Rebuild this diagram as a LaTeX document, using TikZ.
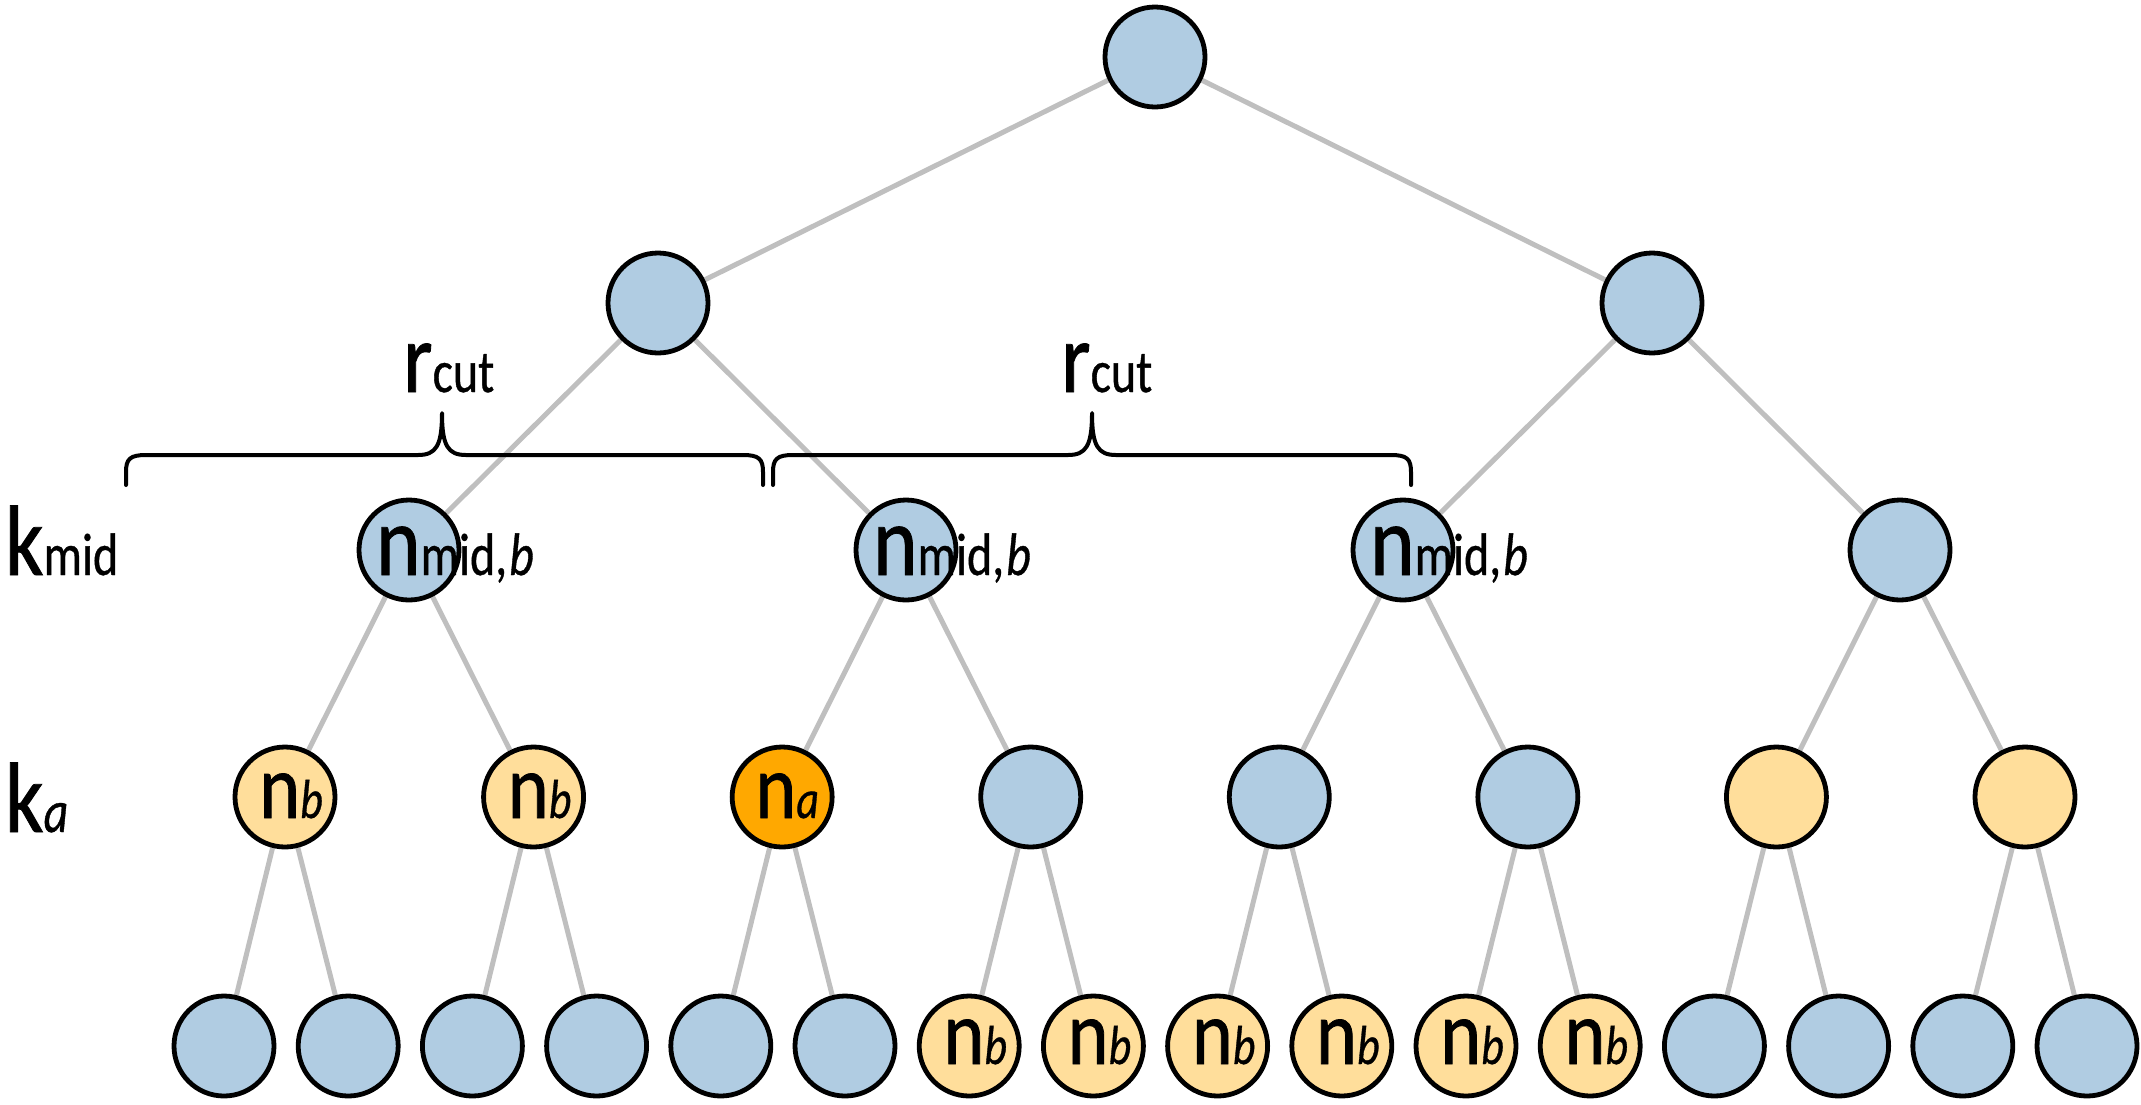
\documentclass[tikz,border=0pt]{standalone}
\usepackage{fontspec}
\setmainfont{Carlito}
\newfontfamily\mainf[FakeStretch=0.85, FakeBold=0.8]{Carlito}
\newfontfamily\subf[FakeStretch=0.8, FakeBold=0.6]{Carlito}
\usetikzlibrary{backgrounds}
\definecolor{nodeblue}{RGB}{176,204,226}
\definecolor{lightgold}{RGB}{255,222,155}
\definecolor{deeporange}{RGB}{255,168,0}
\definecolor{edgegray}{RGB}{191,191,191}
\newcommand\mainsz{\mainf\fontsize{100}{110}\selectfont}
\newcommand\subsz{\subf\fontsize{60}{66}\selectfont}
\newcommand\mainsm{\mainf\fontsize{92}{100}\selectfont}
\newcommand\subsm{\subf\fontsize{55}{60}\selectfont}
\newcommand\drawcurly[3]{%
  \draw[curly] (#1,485) -- (#1,472) .. controls (#1,459) and ({#1+4},455) .. ({#1+20},455)
    -- ({#2-24},455) .. controls ({#2-6},455) and (#2,446) .. (#2,413)
    .. controls (#2,446) and ({#2+6},455) .. ({#2+24},455)
    -- ({#3-20},455) .. controls ({#3-4},455) and (#3,459) .. (#3,472) -- (#3,485);}
\begin{document}
\begin{tikzpicture}[x=1pt,y=-1pt,
  tn/.style={circle, draw=black, line width=4.8pt, minimum size=100pt, inner sep=0pt, fill=nodeblue},
  goldn/.style={tn, fill=lightgold},
  hotn/.style={tn, fill=deeporange},
  edge/.style={draw=edgegray, line width=5pt},
  curly/.style={draw=black, line width=4pt, line cap=round, line join=round},
  lbl/.style={inner sep=0pt, outer sep=0pt, text=black}
]
\useasboundingbox (0,0) rectangle (2141,1104);

% nodes
\node[tn] (r) at (1155,57) {};
\node[tn] (a1) at (658,303) {};
\node[tn] (a2) at (1652,303) {};
\foreach \i/\x in {1/409,2/906,3/1403,4/1900}
  \node[tn] (b\i) at (\x,550) {};
\foreach \i/\s in {1/goldn,2/goldn,3/hotn,4/tn,5/tn,6/tn,7/goldn,8/goldn}
  \node[\s] (c\i) at ({285+248.57*(\i-1)},797) {};
\foreach \j/\s in {1/tn,2/tn,3/tn,4/tn,5/tn,6/tn,7/goldn,8/goldn,9/goldn,10/goldn,11/goldn,12/goldn,13/tn,14/tn,15/tn,16/tn}
  \node[\s] (d\j) at ({224+124.2*(\j-1)},1046) {};

% edges
\begin{pgfonlayer}{background}
\draw[edge] (r) -- (a1);
\draw[edge] (r) -- (a2);
\draw[edge] (a1) -- (b1);
\draw[edge] (a1) -- (b2);
\draw[edge] (a2) -- (b3);
\draw[edge] (a2) -- (b4);
\foreach \k in {1,...,4}{
  \pgfmathtruncatemacro\lc{2*\k-1}
  \pgfmathtruncatemacro\rc{2*\k}
  \draw[edge] (b\k) -- (c\lc);
  \draw[edge] (b\k) -- (c\rc);
}
\foreach \k in {1,...,8}{
  \pgfmathtruncatemacro\lc{2*\k-1}
  \pgfmathtruncatemacro\rc{2*\k}
  \draw[edge] (c\k) -- (d\lc);
  \draw[edge] (c\k) -- (d\rc);
}
\end{pgfonlayer}

% braces
\drawcurly{126}{442}{763}
\drawcurly{773}{1092}{1411}

% labels
\node[lbl, anchor=base west] (kmid) at (5,575) {\mainsz k\subsz mid};
\node[lbl, anchor=base west] (ka) at (5,832) {\mainsz k\subsz\itshape a};
\node[lbl, anchor=base west] (rc1) at (403,392) {\mainsz r\subsz cut};
\node[lbl, anchor=base west] (rc2) at (1061,392) {\mainsz r\subsz cut};
\foreach \i in {1,2,3}
  \node[lbl, anchor=base west] (nm\i) at ([xshift=-33pt]b\i.center |- 0,575) {\mainsz n\subsz mid,\hspace{2pt}\textit{b}};
\foreach \i in {1,2}
  \node[lbl, anchor=base] (nc\i) at ([xshift=6pt]c\i.center |- 0,818) {\mainsm n\subsm\itshape b};
\node[lbl, anchor=base] (nc3) at ([xshift=5pt]c3.center |- 0,818) {\mainsm n\subsm\itshape a};
\foreach \j in {7,...,12}
  \node[lbl, anchor=base] (nd\j) at ([xshift=6pt]d\j.center |- 0,1064) {\mainsm n\subsm\itshape b};
\end{tikzpicture}
\end{document}
